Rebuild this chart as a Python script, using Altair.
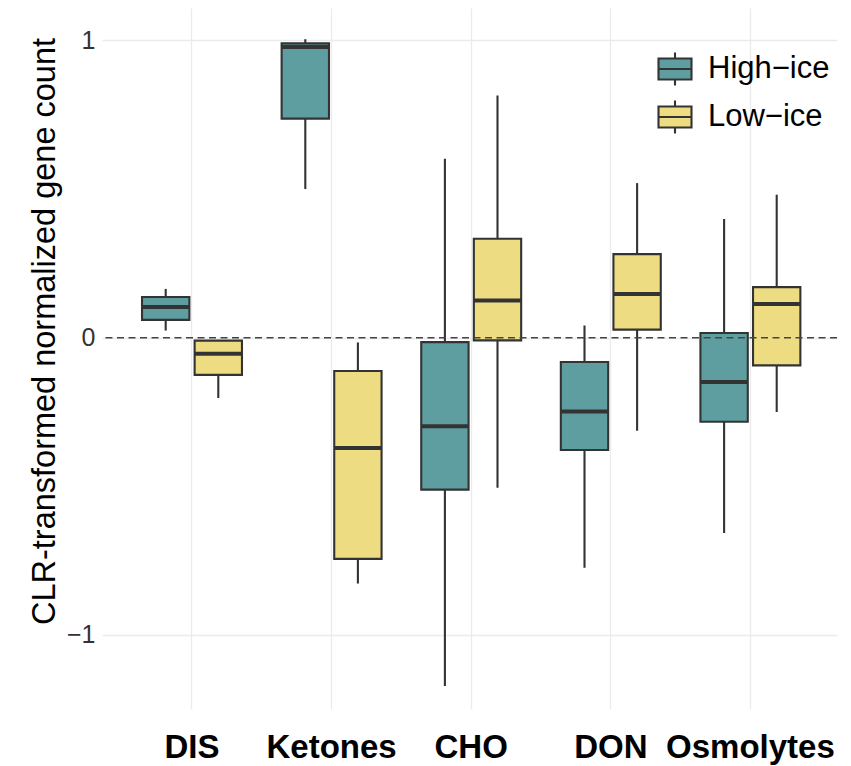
import altair as alt
import pandas as pd

categories = ["DIS", "Ketones", "CHO", "DON", "Osmolytes"]
groups = ["High−ice", "Low−ice"]

# five-number summaries
high_min = [0.024, 0.500, -1.172, -0.774, -0.657]
high_q1 = [0.060, 0.737, -0.511, -0.378, -0.283]
high_med = [0.103, 0.978, -0.298, -0.248, -0.149]
high_q3 = [0.137, 0.990, -0.015, -0.082, 0.016]
high_max = [0.164, 1.004, 0.602, 0.041, 0.399]

low_min = [-0.203, -0.827, -0.505, -0.313, -0.250]
low_q1 = [-0.125, -0.744, -0.009, 0.027, -0.093]
low_med = [-0.054, -0.371, 0.125, 0.147, 0.113]
low_q3 = [-0.010, -0.112, 0.333, 0.281, 0.170]
low_max = [-0.010, -0.016, 0.815, 0.520, 0.481]

rows = []
for g, mins, q1s, meds, q3s, maxs in [
    (groups[0], high_min, high_q1, high_med, high_q3, high_max),
    (groups[1], low_min, low_q1, low_med, low_q3, low_max),
]:
    for i, c in enumerate(categories):
        rows.append(dict(category=c, group=g, lo=mins[i], q1=q1s[i],
                         med=meds[i], q3=q3s[i], hi=maxs[i]))
df = pd.DataFrame(rows)
zero_df = pd.DataFrame({"v": [0]})

FONT = "Liberation Sans"
DARK = "#333333"
LW = 2.1

x_enc = alt.X(
    "category:N", sort=categories,
    scale=alt.Scale(paddingInner=0, paddingOuter=0.1325, align=0.546),
    axis=alt.Axis(title=None, labelFont=FONT, labelFontSize=33,
                  labelFontWeight="bold", labelColor="black", labelAngle=0,
                  labelPadding=48, labelBaseline="alphabetic",
                  domain=False, ticks=False, grid=True,
                  gridColor="#EBEBEB", gridWidth=1.3),
)
xoff = alt.XOffset("group:N", sort=groups,
                   scale=alt.Scale(paddingInner=0.1, paddingOuter=0.377))
y_scale = alt.Scale(domain=[-1.249, 1.109], nice=False, zero=False)
y_axis = alt.Axis(
    title="CLR-transformed normalized gene count", values=[-1, 0, 1],
    format="d",
    labelFont=FONT, labelFontSize=25, labelColor=DARK, labelPadding=7,
    titleFont=FONT, titleFontSize=32.5, titleFontWeight="normal",
    titleColor="black", titleX=-48, titleY=323, titleAngle=270,
    titleAlign="center", titleBaseline="alphabetic",
    domain=False, ticks=False, grid=True, gridColor="#EBEBEB", gridWidth=1.3,
)

legend_path = "M-1,-0.64H1V0.64H-1Z M-1,0H1 M0,-0.64V-1 M0,0.64V1"
color_scale = alt.Scale(domain=groups, range=["#5F9EA0", "#EEDC82"])

base = alt.Chart(df)
whisk = base.mark_rule(color=DARK, strokeWidth=LW).encode(
    x=x_enc, xOffset=xoff,
    y=alt.Y("lo:Q", scale=y_scale, axis=y_axis), y2="hi:Q",
)
box = base.mark_bar(stroke=DARK, strokeWidth=LW, opacity=1).encode(
    x=x_enc, xOffset=xoff,
    y=alt.Y("q1:Q", scale=y_scale), y2="q3:Q",
    fill=alt.Fill("group:N", scale=color_scale, legend=alt.Legend(
        title=None, orient="none", legendX=555, legendY=43, padding=0,
        symbolType=legend_path, symbolSize=1089, symbolStrokeColor=DARK,
        symbolStrokeWidth=LW, symbolOpacity=1,
        labelFont=FONT, labelFontSize=31, labelColor="black",
        labelOffset=15, rowPadding=6,
    )),
)
med = base.mark_tick(color=DARK, thickness=4, size=47, opacity=1).encode(
    x=x_enc, xOffset=xoff, y=alt.Y("med:Q", scale=y_scale),
)
zero = alt.Chart(zero_df).mark_rule(
    color="#444444", strokeWidth=1.5, strokeDash=[7, 4.5]
).encode(y=alt.Y("v:Q", scale=y_scale))

chart = alt.layer(whisk, box, med, zero).properties(
    width=735, height=701,
    autosize=alt.AutoSizeParams(type="none"),
    padding={"left": 102, "top": 8, "right": 14, "bottom": 57},
    background="white",
).configure_view(stroke=None)

chart.save("out.html", embed_options={"renderer": "svg", "actions": False})
